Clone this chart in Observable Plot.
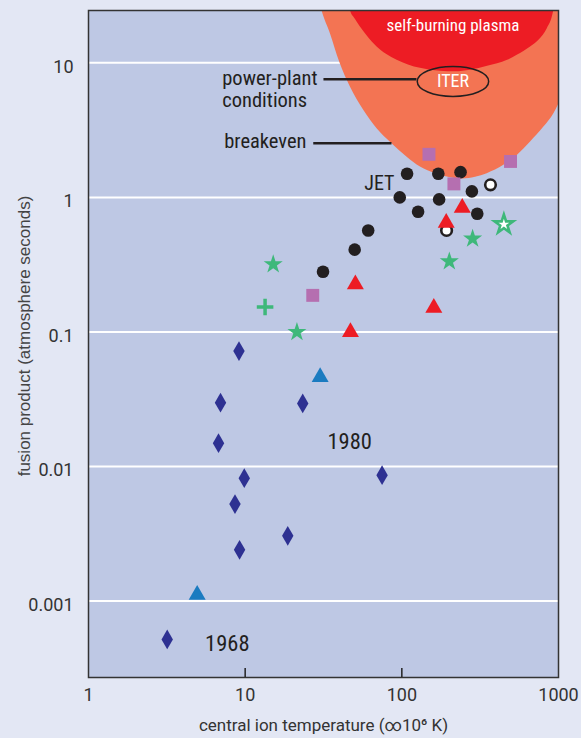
<!DOCTYPE html>
<html><head><meta charset="utf-8">
<script src="https://cdn.jsdelivr.net/npm/d3@7"></script>
<script src="https://cdn.jsdelivr.net/npm/@observablehq/plot@0.6"></script>
<style>
html,body{margin:0;padding:0;background:#e3e7f4;}
#chart{width:581px;height:738px;overflow:hidden;}
svg{display:block;}
</style></head><body><div id="chart"></div>
<script>
const FONT = '"Liberation Sans Narrow", "Roboto Condensed", Roboto, sans-serif';

// axis ticks
const xTicks = [1, 10, 100, 1000];
const xInnerTicks = [10, 100];
const yTicks = [0.001, 0.01, 0.1, 1, 10];

// regions (lower boundaries)
const breakevenX = [29.3, 30.9, 35.0, 40.1, 46.95, 57.1, 69.5, 85.8, 108.1, 131.5, 163.9, 204.4, 243.9, 295.3, 350.8, 447.9, 545.5, 663.3, 806.6, 934.5, 1031, 1127];
const breakevenY = [31.8, 24.6, 16.49, 10.14, 6.61, 4.44, 3.24, 2.53, 1.99, 1.68, 1.50, 1.40, 1.37, 1.41, 1.50, 1.73, 2.05, 2.58, 3.33, 4.19, 5.26, 6.46];
const burningX = [46.3, 46.95, 50.5, 54.4, 60.3, 69.5, 79.7, 93.3, 110.2, 131.5, 176.4, 220, 274.4, 352.4, 473, 545, 663, 750, 848, 913, 934, 970];
const burningY = [31.8, 24.6, 21.06, 18.46, 15.74, 13.11, 11.57, 10.44, 9.66, 9.10, 8.65, 8.57, 8.80, 9.42, 10.44, 11.37, 13.11, 14.7, 17.96, 21.9, 24.6, 31.8];
const regionTop = 60;

// series
const circleX = [108, 171, 237, 97, 173, 280, 127, 303, 61, 50, 31.4];
const circleY = [1.50, 1.50, 1.54, 1.00, 0.966, 1.108, 0.783, 0.756, 0.568, 0.409, 0.280];
const openX = [368, 193];
const openY = [1.24, 0.568];
const squareX = [149, 494, 215, 27];
const squareY = [2.09, 1.85, 1.26, 0.187];
const redTriX = [243, 192, 50.5, 160, 47];
const redTriY = [0.837, 0.648, 0.2255, 0.151, 0.0997];
const starX = [15.1, 21.4, 283, 201];
const starY = [0.318, 0.0997, 0.493, 0.334];
const bigStarX = [448];
const bigStarY = [0.63];
const plusX = [13.4];
const plusY = [0.153];
const blueTriX = [30.1, 4.94];
const blueTriY = [0.0461, 0.00111];
const diamondX = [9.13, 6.96, 23.3, 6.76, 9.87, 74.8, 8.61, 18.7, 9.21, 3.18];
const diamondY = [0.072, 0.0298, 0.0294, 0.0149, 0.00818, 0.00861, 0.00525, 0.00305, 0.0024, 0.000518];

// annotations
const iterX = [212], iterY = [7.28];
const labelText = ["power-plant", "conditions", "breakeven"];
const labelX = [7.14, 7.14, 7.35];
const labelY = [7.67, 5.26, 2.61];
const leaderX1 = [31.6, 27.2], leaderX2 = [124, 85.9], leaderY = [7.54, 2.53];
const jetText = ["JET"], jetX = [71.9], jetY = [1.27];
const yearText = ["1980", "1968"];
const yearX = [46.5, 7.69];
const yearY = [0.0152, 0.000483];

const pts = (xs, ys) => xs.map((x, i) => ({x, y: ys[i]}));

const ellipseSymbol = {
  draw(ctx) {
    const rx = 35.7, ry = 15, k = 0.5523;
    ctx.moveTo(rx, 0);
    ctx.bezierCurveTo(rx, ry * k, rx * k, ry, 0, ry);
    ctx.bezierCurveTo(-rx * k, ry, -rx, ry * k, -rx, 0);
    ctx.bezierCurveTo(-rx, -ry * k, -rx * k, -ry, 0, -ry);
    ctx.bezierCurveTo(rx * k, -ry, rx, -ry * k, rx, 0);
    ctx.closePath();
  }
};

const INK = "#231f20";
const GREEN = "#3eb87a";

const chart = Plot.plot({
  width: 581, height: 738,
  marginLeft: 88, marginRight: 23, marginTop: 10, marginBottom: 61,
  style: {background: "transparent", fontFamily: FONT, fontSize: "18px", color: "#333"},
  x: {type: "log", domain: [1, 1000], label: null},
  y: {type: "log", domain: [0.00027, 24.5], label: null},
  marks: [
    Plot.frame({fill: "#bec8e4"}),
    Plot.ruleY(yTicks, {stroke: "white", strokeWidth: 2}),
    Plot.area(pts(breakevenX, breakevenY), {x1: "x", y1: "y", y2: regionTop, curve: "monotone-x", fill: "#f37453", clip: true}),
    Plot.area(pts(burningX, burningY), {x1: "x", y1: "y", y2: regionTop, curve: "monotone-x", fill: "#ed1c24", clip: true}),
    Plot.text(["self-burning plasma"], {x: [212], y: [19.0], fill: "white", fontSize: 17}),
    Plot.dot(pts(iterX, iterY), {x: "x", y: "y", symbol: ellipseSymbol, fill: "none", stroke: INK, strokeWidth: 1.5}),
    Plot.text(["ITER"], {x: iterX, y: iterY, fill: "white", fontSize: 18}),
    Plot.link(leaderY, {x1: leaderX1, x2: leaderX2, y1: leaderY, y2: leaderY, stroke: INK, strokeWidth: 2.5}),
    Plot.text(labelText, {x: labelX, y: labelY, textAnchor: "start", fill: INK, fontSize: 20.5}),
    Plot.text(jetText, {x: jetX, y: jetY, fill: INK, fontSize: 20}),
    Plot.text(yearText, {x: yearX, y: yearY, fill: INK, fontSize: 22.5}),
    Plot.dot(pts(circleX, circleY), {x: "x", y: "y", r: 6.3, fill: INK, stroke: "none"}),
    Plot.dot(pts(openX, openY), {x: "x", y: "y", r: 5.3, fill: "white", stroke: INK, strokeWidth: 2.6}),
    Plot.dot(pts(squareX, squareY), {x: "x", y: "y", r: 7.3, symbol: "square", fill: "#b56fb0", stroke: "none"}),
    Plot.dot(pts(redTriX, redTriY), {x: "x", y: "y", r: 6.3, symbol: "triangle", fill: "#ed1c24", stroke: "none"}),
    Plot.dot(pts(starX, starY), {x: "x", y: "y", r: 6, symbol: "star", fill: GREEN, stroke: "none"}),
    Plot.dot(pts(bigStarX, bigStarY), {x: "x", y: "y", r: 8.4, symbol: "star", fill: GREEN, stroke: "none"}),
    Plot.dot(pts(bigStarX, bigStarY), {x: "x", y: "y", r: 3.4, symbol: "star", fill: "white", stroke: "none"}),
    Plot.dot(pts(plusX, plusY), {x: "x", y: "y", r: 5.4, symbol: "plus", stroke: GREEN, strokeWidth: 3.5}),
    Plot.dot(pts(blueTriX, blueTriY), {x: "x", y: "y", r: 6.3, symbol: "triangle", fill: "#1b7bc0", stroke: "none"}),
    Plot.dot(pts(diamondX, diamondY), {x: "x", y: "y", r: 6, symbol: "diamond", fill: "#2e3192", stroke: "none"}),
    Plot.frame({stroke: "#333", strokeWidth: 1.5}),
    Plot.axisY({ticks: yTicks, tickSize: 0, tickPadding: 15, dy: 4, label: null, tickFormat: d => String(d), fontSize: 18, fill: "#333", fontFamily: "Roboto"}),
    Plot.axisX({ticks: xTicks, tickSize: 0, tickPadding: 11, label: null, tickFormat: d => String(d), fontSize: 18, fill: "#333", fontFamily: "Roboto"}),
    Plot.axisX({ticks: xInnerTicks, tickSize: -9, label: null, tickFormat: () => "", stroke: "#222", strokeWidth: 1.5}),
    Plot.text(["fusion product (atmosphere seconds)"], {frameAnchor: "left", textAnchor: "middle", dx: -64, dy: -8, rotate: -90, fontSize: 17, fill: "#444", fontFamily: "Liberation Sans"}),
    Plot.text(["central ion temperature (\u221e10\u2076 K)"], {frameAnchor: "bottom", dy: 53, fontSize: 17, fill: "#333", fontFamily: "Roboto"})
  ]
});
document.getElementById("chart").append(chart);
</script></body></html>
